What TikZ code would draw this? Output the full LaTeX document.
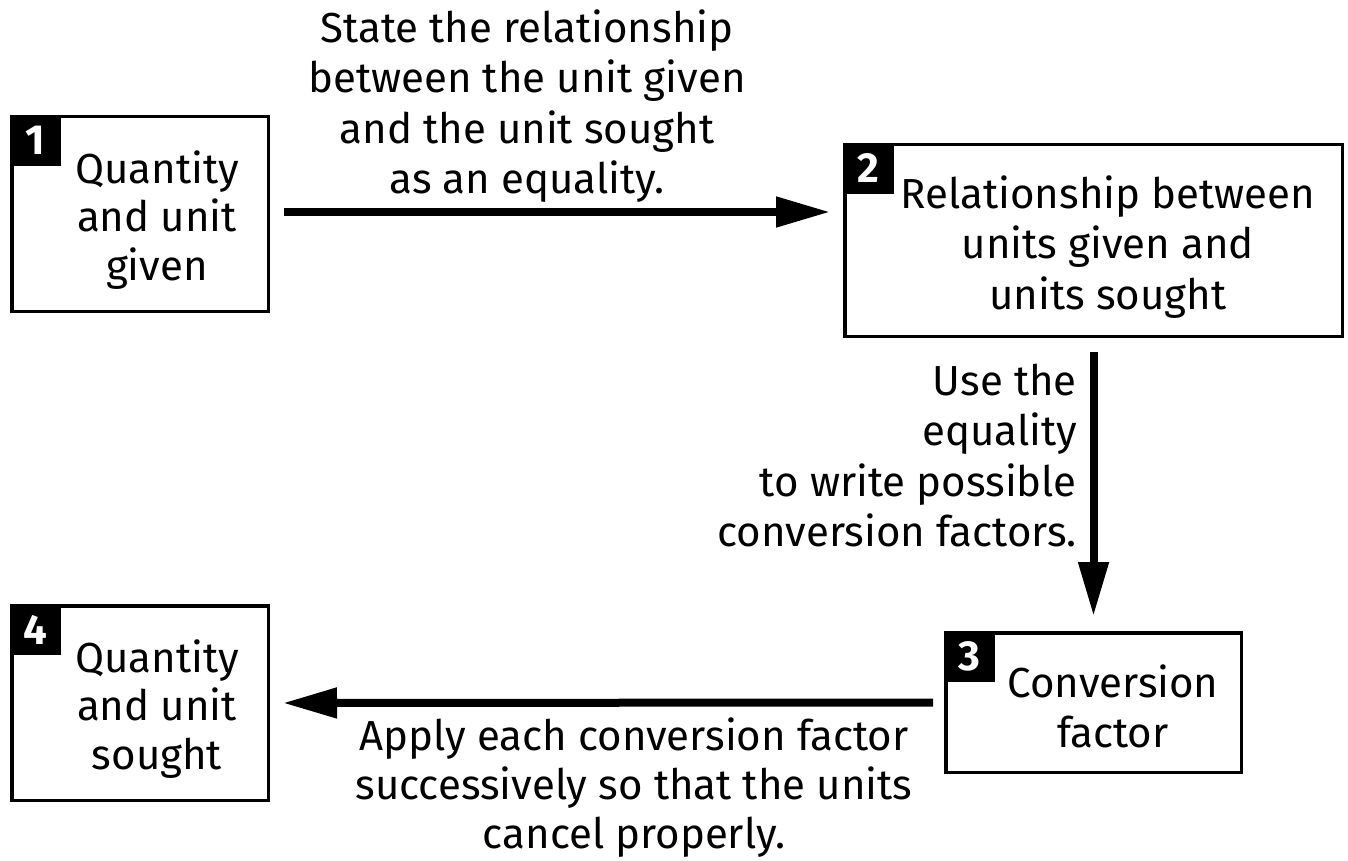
\documentclass[tikz,border=0pt]{standalone}
\usepackage{fontspec}
\setmainfont{Fira Sans}
\usetikzlibrary{arrows.meta}
\tikzset{
  stepbox/.style={draw=black, line width=3.5pt, inner sep=0pt, fill=white},
  numbox/.style={fill=black, text=white, inner sep=0pt, outer sep=0pt,
    minimum size=51pt, anchor=north west, font=\fontsize{42}{42}\selectfont\bfseries},
  txt/.style={inner sep=0pt, align=center, anchor=north,
    font=\fontsize{42}{50.5}\selectfont},
  flow/.style={line width=8pt, -{Triangle[length=54pt,width=29pt]}}
}
\newcommand\topstrut{\rule{0pt}{34pt}}
\begin{document}
\begin{tikzpicture}[x=1pt,y=-1pt]
\useasboundingbox (0,0) rectangle (1348,861);
% boxes
\node[stepbox, minimum width=256.5pt, minimum height=194.5pt] (b1) at (140,214) {};
\node[stepbox, minimum width=497.5pt, minimum height=191.5pt] (b2) at (1093.5,240.5) {};
\node[stepbox, minimum width=295.5pt, minimum height=139.5pt] (b3) at (1093.5,702.5) {};
\node[stepbox, minimum width=256.5pt, minimum height=194.5pt] (b4) at (140,703) {};
% number squares
\node[numbox] (n1) at (b1.north west) {1};
\node[numbox] (n2) at (b2.north west) {2};
\node[numbox] (n3) at (b3.north west) {3};
\node[numbox] (n4) at (b4.north west) {4};
% box texts
\node[txt, font=\fontsize{42}{48.5}\selectfont] (t1) at (157,149) {\topstrut Quantity\\and unit\\given};
\node[txt] (t2) at (1108,174) {\topstrut Relationship between\\units given and\\units sought};
\node[txt] (t3) at (1113,663) {\topstrut Conversion\\factor};
\node[txt, font=\fontsize{42}{48.5}\selectfont] (t4) at (157,638) {\topstrut Quantity\\and unit\\sought};
% connector labels
\node[txt] (l1) at (527,8) {\topstrut State the relationship\\between the unit given\\and the unit sought\\as an equality.};
\node[txt, align=right, anchor=north east] (l2) at (1077,361) {\topstrut Use the\\equality\\to write possible\\conversion factors.};
\node[txt, font=\fontsize{42}{49}\selectfont] (l3) at (634,716) {\topstrut Apply each conversion factor\\successively so that the units\\cancel properly.};
% connectors
\draw[flow, shorten >=13pt] ([xshift=14pt,yshift=2pt]b1.east) coordinate (a1s) -- (b2.west |- a1s);
\draw[flow, shorten >=15pt] ([yshift=-14pt]b2.south) -- (b2.south |- b3.north);
\draw[flow, shorten <=11pt, shorten >=13pt] (b3.west) -- (b4.east);
\end{tikzpicture}
\end{document}
